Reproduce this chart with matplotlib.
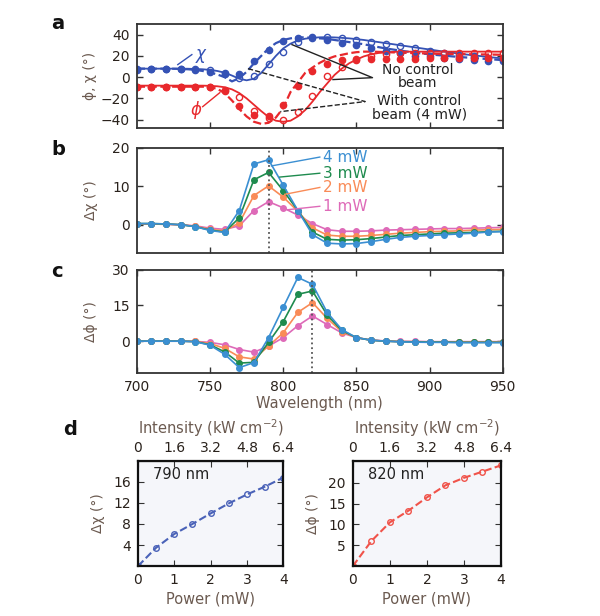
import matplotlib
matplotlib.use('Agg')
import matplotlib.pyplot as plt

plt.rcParams['font.family'] = ['DejaVu Sans']
plt.rcParams['font.size'] = 10

# wavelengths of the measured points and of the fitted curves
wl = [700, 710, 720, 730, 740, 750, 760, 770, 780, 790, 800, 810, 820,
      830, 840, 850, 860, 870, 880, 890, 900, 910, 920, 930, 940, 950]
wl_fit = [700, 705, 710, 715, 720, 725, 730, 735, 740, 745, 750, 755, 760,
          765, 770, 775, 780, 785, 790, 795, 800, 805, 810, 815, 820, 825,
          830, 835, 840, 845, 850, 855, 860, 865, 870, 875, 880, 885, 890,
          895, 900, 905, 910, 915, 920, 925, 930, 935, 940, 945, 950]

# panel a: points
chi_ctrl = [7, 7.5, 7.5, 7.5, 6.5, 5, 3, 2.5, 15, 26, 34, 37, 38, 35, 32.5, 30,
            27.7, 24.5, 23, 20, 19.5, 18.3, 17.4, 16.5, 15.5, 15]
chi_noctrl = [8, 8, 8, 8, 7.5, 6.5, 4, -1, 0.8, 12, 24, 33, 37, 38, 36.5, 35,
              33, 31, 29, 27, 25, 23, 21, 19.5, 18, 17]
phi_ctrl = [-9, -9, -9, -9, -9, -9, -13, -27, -36, -37, -26, -8, 6, 12, 16,
            16.5, 17, 17, 17.5, 17.5, 18, 18, 18, 18, 18, 18]
phi_noctrl = [-9, -9, -9, -9, -9, -9, -12, -19, -32, -38, -40, -33, -18, 1,
              10, 17, 20, 22, 22.5, 23, 23, 23, 23, 23, 23, 23]

# panel a: fitted curves
chi_noctrl_fit = [8, 8, 8, 8, 8, 8, 8, 7.9, 7.7, 7.4, 6.8, 5.8, 4.2, 1.5, -1.5,
                  -3, -1.5, 4, 12, 20, 27, 31.5, 34.5, 36.2, 37, 37.5, 37.6,
                  37.4, 37, 36.5, 35.8, 35, 34, 33, 32, 31, 30, 29, 28, 27, 26,
                  25, 24, 23, 22.2, 21.3, 20.5, 19.8, 19, 18.3, 17.6]
chi_ctrl_fit = [8, 8, 8, 8, 8, 7.9, 7.7, 7.4, 6.8, 5.8, 4.5, 2.5, 0, -4, -1, 5,
                13, 20, 27, 32, 35, 36.5, 37.5, 37.4, 37, 36.5, 36, 35, 34, 33,
                32, 31, 29.5, 28.3, 27, 26, 25, 24, 23, 22.2, 21.5, 20.8, 20.2,
                19.6, 19, 18.5, 18, 17.5, 17, 16.5, 16]
phi_noctrl_fit = [-8, -8, -8, -8, -8, -8, -8, -8, -8, -8, -8.2, -8.6, -9.5,
                  -11.5, -15, -20, -26, -32, -37.5, -41, -42, -41, -37, -31,
                  -23, -14, -6, 2, 8, 13, 16.5, 19.5, 21.5, 22.7, 23.3, 23.7,
                  24, 24, 24, 24, 24, 24, 24, 24, 24, 24, 24, 24, 24, 24, 24]
phi_ctrl_fit = [-9, -9, -9, -9, -9, -9, -9, -9, -9, -9, -9.5, -11, -15, -22,
                -30, -37, -42, -44, -43, -38, -29, -14, -5, 4, 9, 13.5, 17,
                19.5, 21, 22.5, 23.5, 24, 24, 23.8, 23.5, 23.3, 23, 22.8, 22.6,
                22.4, 22.2, 22, 21.9, 21.8, 21.7, 21.6, 21.5, 21.4, 21.3, 21.2,
                21]

# panel b: delta chi for each power
dchi = {
    '1 mW': [0.2, 0.2, 0.1, 0, -0.3, -0.9, -1.2, -0.3, 3.7, 6.0, 4.4, 2.5, 0.3,
             -1.3, -1.7, -1.7, -1.6, -1.4, -1.3, -1.2, -1.1, -1.0, -1.0, -0.9,
             -0.8, -0.7],
    '2 mW': [0.2, 0.2, 0.1, 0, -0.4, -1.2, -1.6, 0.5, 7.6, 10.1, 7.2, 3.5, -0.8,
             -2.7, -3.0, -3.0, -2.8, -2.5, -2.2, -2.0, -1.8, -1.7, -1.6, -1.4,
             -1.3, -1.2],
    '3 mW': [0.3, 0.3, 0.2, 0, -0.5, -1.4, -1.9, 1.8, 11.7, 13.6, 8.9, 3.7,
             -1.9, -3.8, -4.0, -3.9, -3.6, -3.2, -2.8, -2.6, -2.4, -2.2, -2.1,
             -2.0, -1.8, -1.7],
    '4 mW': [0.3, 0.3, 0.2, 0, -0.5, -1.5, -2.0, 3.7, 15.8, 16.9, 10.3, 3.7,
             -2.6, -4.8, -5.0, -4.9, -4.4, -3.8, -3.3, -3.0, -2.8, -2.6, -2.4,
             -2.2, -1.9, -1.8],
}

# panel c: delta phi for each power
dphi = {
    '1 mW': [0, 0, 0, 0, -0.1, -0.5, -1.5, -3.5, -4.6, -2.1, 1.5, 6.5, 10.6,
             7.0, 3.5, 1.5, 0.5, 0.1, -0.1, -0.1, -0.2, -0.2, -0.2, -0.2, -0.2,
             -0.2],
    '2 mW': [0, 0, 0, 0, -0.1, -1.0, -3.0, -6.6, -7.5, -2.0, 3.5, 12.1, 16.2,
             9.6, 4.0, 1.5, 0.4, 0, -0.2, -0.2, -0.3, -0.3, -0.3, -0.3, -0.3,
             -0.3],
    '3 mW': [0, 0, 0, 0, -0.2, -1.5, -4.5, -9.2, -8.9, -0.5, 8.2, 19.7, 21.1,
             11.0, 4.5, 1.5, 0.4, 0, -0.2, -0.3, -0.4, -0.4, -0.5, -0.5, -0.5,
             -0.5],
    '4 mW': [0, 0, 0, 0, -0.2, -1.7, -5.5, -11.1, -9.0, 1.5, 14.2, 26.8, 23.9,
             12.1, 4.9, 1.5, 0.4, 0, -0.3, -0.4, -0.5, -0.5, -0.6, -0.6, -0.6,
             -0.6],
}
power_colors = {'1 mW': '#de6ab8', '2 mW': '#f98b57', '3 mW': '#1e8b4e',
                '4 mW': '#3b8fd2'}

# panel d
power = [0, 0.5, 1, 1.5, 2, 2.5, 3, 3.5, 4]
dchi_790 = [0, 3.5, 6.1, 8.0, 10.0, 11.9, 13.6, 15.1, 16.8]
dphi_820 = [0, 6.0, 10.5, 13.3, 16.5, 19.4, 21.2, 22.7, 24.2]
intensity_ticks = ['0', '1.6', '3.2', '4.8', '6.4']

blue = '#3552b5'
red = '#e8282c'
label_col = '#6b5a50'
tick_col = '#2a221c'

fig = plt.figure(figsize=(6.0, 6.16), dpi=100)


def style(ax):
    ax.tick_params(direction='in', top=True, right=True, length=4,
                   width=1, colors='#333333', labelcolor=tick_col,
                   labelsize=10, pad=5)
    for s in ax.spines.values():
        s.set_color('#333333')
        s.set_linewidth(1.3)


# ---- panel a ----
ax_a = fig.add_axes([0.228, 0.792, 0.61, 0.169])
ax_a.plot(wl_fit, chi_noctrl_fit, '-', color=blue, lw=1.3)
ax_a.plot(wl_fit, chi_ctrl_fit, '--', color=blue, lw=1.6)
ax_a.plot(wl_fit, phi_noctrl_fit, '-', color=red, lw=1.3)
ax_a.plot(wl_fit, phi_ctrl_fit, '--', color=red, lw=1.6)
ax_a.plot(wl, chi_noctrl, 'o', mfc='none', mec=blue, ms=4.5, mew=1)
ax_a.plot(wl, chi_ctrl, 'o', color=blue, ms=4.5)
ax_a.plot(wl, phi_noctrl, 'o', mfc='none', mec=red, ms=4.5, mew=1)
ax_a.plot(wl, phi_ctrl, 'o', color=red, ms=4.5)
ax_a.set_xlim(700, 950)
ax_a.set_ylim(-48, 50)
ax_a.set_xticks([750, 800, 850, 900])
ax_a.set_xticklabels([])
ax_a.set_yticks([-40, -20, 0, 20, 40])
ax_a.set_yticklabels(['\u221240', '\u221220', '0', '20', '40'])
style(ax_a)
ax_a.set_ylabel('\u03d5, \u03c7 (\u00b0)', color=label_col, fontsize=10,
                labelpad=3)

ax_a.plot([728, 737.6], [11.8, 21.2], color=blue, lw=1)
ax_a.text(740, 22, '\u03c7', color=blue, fontsize=12, style='italic',
          va='center')
ax_a.plot([745, 756.7], [-27.8, -14.6], color=red, lw=1)
ax_a.text(744, -31, '\u03d5', color=red, fontsize=12, style='italic',
          va='center', ha='right')

ax_a.text(892, 0.5, 'No control\nbeam', ha='center', va='center',
          fontsize=10, linespacing=0.9, color='#222222')
ax_a.plot([806, 861, 834], [30.6, -0.5, -2.3], color='#222222', lw=1)
ax_a.text(893, -29, 'With control\nbeam (4 mW)', ha='center', va='center',
          fontsize=10, linespacing=0.9, color='#222222')
ax_a.plot([776, 856, 798], [8, -23, -32.5], '--', color='#222222', lw=1)

# ---- panel b ----
ax_b = fig.add_axes([0.228, 0.589, 0.61, 0.171])
for key in ['1 mW', '2 mW', '3 mW', '4 mW']:
    ax_b.plot(wl, dchi[key], '-o', color=power_colors[key], lw=1.2, ms=4,
              mec=power_colors[key])
ax_b.axvline(790, color='#555555', ls=':', lw=1.3)
ax_b.set_xlim(700, 950)
ax_b.set_ylim(-7.4, 20)
ax_b.set_xticks([750, 800, 850, 900])
ax_b.set_xticklabels([])
ax_b.set_yticks([0, 10, 20])
style(ax_b)
ax_b.set_ylabel('\u0394\u03c7 (\u00b0)', color=label_col, fontsize=10,
                labelpad=10)

leg_pos = {'4 mW': (792, 15.3, 17.6), '3 mW': (797.7, 12.4, 13.4),
           '2 mW': (801, 7.9, 9.7), '1 mW': (803, 3.9, 4.8)}
for key, (x0, y0, y1) in leg_pos.items():
    ax_b.plot([x0, 825], [y0, y1], color=power_colors[key], lw=1)
    ax_b.text(827, y1, key, color=power_colors[key], fontsize=11,
              va='center')

# ---- panel c ----
ax_c = fig.add_axes([0.228, 0.394, 0.61, 0.168])
for key in ['1 mW', '2 mW', '3 mW', '4 mW']:
    ax_c.plot(wl, dphi[key], '-o', color=power_colors[key], lw=1.2, ms=4,
              mec=power_colors[key])
ax_c.axvline(820, color='#555555', ls=':', lw=1.3)
ax_c.set_xlim(700, 950)
ax_c.set_ylim(-13.5, 30)
ax_c.set_xticks([700, 750, 800, 850, 900, 950])
ax_c.set_yticks([0, 15, 30])
style(ax_c)
ax_c.set_ylabel('\u0394\u03d5 (\u00b0)', color=label_col, fontsize=10,
                labelpad=10)
ax_c.set_xlabel('Wavelength (nm)', color=label_col, fontsize=10.5,
                labelpad=1)

# ---- panel d ----
def panel_d(rect, yvals, color, ylim, yticks, ylabel, tag):
    ax = fig.add_axes(rect)
    ax.set_facecolor('#f5f6fa')
    ax.plot(power, yvals, '--o', color=color, mfc='none', mec=color, ms=4,
            lw=1.5, mew=1)
    ax.plot(power[:1], yvals[:1], 'o', color=color, ms=4)
    ax.set_xlim(0, 4)
    ax.set_ylim(*ylim)
    ax.set_xticks([0, 1, 2, 3, 4])
    ax.set_yticks(yticks)
    ax.tick_params(direction='in', right=True, length=4, colors='#333333',
                   labelcolor=tick_col, labelsize=10, pad=5)
    for s in ax.spines.values():
        s.set_color('#111111')
        s.set_linewidth(1.6)
    ax.set_xlabel('Power (mW)', color=label_col, fontsize=10.5, labelpad=3)
    ax.set_ylabel(ylabel, color=label_col, fontsize=10, labelpad=6)
    ax.text(0.1, 0.87, tag, transform=ax.transAxes, fontsize=10.5,
            color='#222222', va='center')
    top = ax.secondary_xaxis('top')
    top.set_ticks([0, 1, 2, 3, 4])
    top.set_xticklabels(intensity_ticks)
    top.tick_params(direction='in', length=4, colors='#333333',
                    labelcolor=tick_col, labelsize=10, pad=4)
    top.set_xlabel('Intensity (kW cm$^{\u22122}$)', color=label_col,
                   fontsize=10.5, labelpad=5)
    return ax


panel_d([0.230, 0.081, 0.242, 0.171], dchi_790, '#4a62b8', (0, 20),
        [4, 8, 12, 16], '\u0394\u03c7 (\u00b0)', '790 nm')
panel_d([0.588, 0.081, 0.247, 0.171], dphi_820, '#f0534a', (0, 25.3),
        [5, 10, 15, 20], '\u0394\u03d5 (\u00b0)', '820 nm')

# panel letters
for letter, (x, y) in {'a': (0.085, 0.962), 'b': (0.085, 0.758),
                       'c': (0.085, 0.56), 'd': (0.105, 0.302)}.items():
    fig.text(x, y, letter, fontsize=14, fontweight='bold', color='#111111',
             va='center')

fig.savefig('out.png', dpi=100)
